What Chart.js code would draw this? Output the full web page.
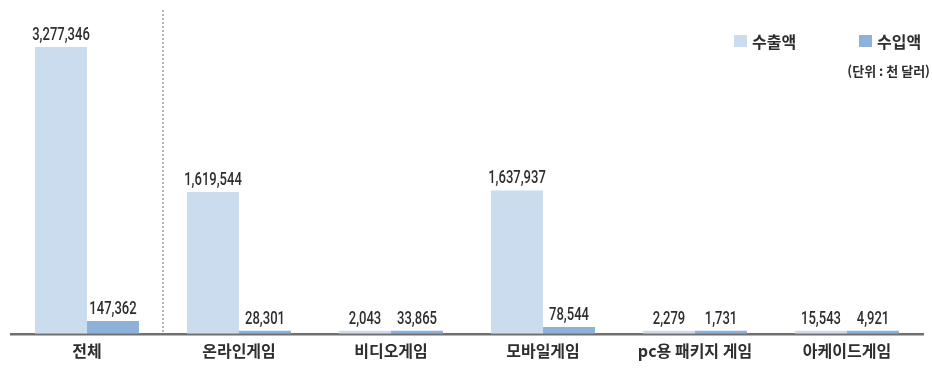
<!DOCTYPE html>
<html lang="ko">
<head>
<meta charset="utf-8">
<title>게임 수출입액</title>
<script src="https://cdn.jsdelivr.net/npm/chart.js@4.4.1/dist/chart.umd.min.js"></script>
<style>
    html, body { margin: 0; padding: 0; background: #fff; }
    #wrap { position: relative; width: 932px; height: 371px; }
</style>
</head>
<body>
<div id="wrap"><canvas id="gameTradeChart" width="932" height="371"></canvas></div>
<script>
// 게임 분야별 수출액 / 수입액 (단위: 천 달러)
const categories = ['전체', '온라인게임', '비디오게임', '모바일게임', 'pc용 패키지 게임', '아케이드게임'];
const exportValues = [3277346, 1619544, 2043, 1637937, 2279, 15543];
const importValues = [147362, 28301, 33865, 78544, 1731, 4921];
const seriesNames = ['수출액', '수입액'];
const unitText = '(단위 : 천 달러)';

const EXPORT_COLOR = '#cbdcee';
const IMPORT_COLOR = '#8db1d8';
const TEXT_COLOR = '#2e2e2e';

// numbers above each bar, squeezed into a narrow face
const valueLabels = {
    id: 'valueLabels',
    afterDatasetsDraw(chart) {
        const ctx = chart.ctx;
        ctx.save();
        ctx.font = '500 19px Roboto, "Noto Sans", sans-serif';
        ctx.fillStyle = TEXT_COLOR;
        ctx.textAlign = 'center';
        ctx.textBaseline = 'alphabetic';
        // aim for ~7.4px per digit
        const squeeze = 7.4 / ctx.measureText('0').width;
        chart.data.datasets.forEach((ds, di) => {
            const meta = chart.getDatasetMeta(di);
            meta.data.forEach((bar, i) => {
                const text = ds.data[i].toLocaleString('en-US');
                ctx.save();
                ctx.translate(bar.x, bar.y - 7);
                ctx.scale(squeeze, 1);
                ctx.fillText(text, 0, 0);
                ctx.restore();
            });
        });
        ctx.restore();
    }
};

// dotted divider between the total and the individual categories
const totalDivider = {
    id: 'totalDivider',
    beforeDatasetsDraw(chart) {
        const { ctx, chartArea } = chart;
        const xScale = chart.scales.x;
        const x = (xScale.getPixelForValue(0) + xScale.getPixelForValue(1)) / 2;
        ctx.save();
        ctx.strokeStyle = '#9a9a9a';
        ctx.lineWidth = 1.5;
        ctx.setLineDash([2, 2]);
        ctx.beginPath();
        ctx.moveTo(x, chartArea.top);
        ctx.lineTo(x, chartArea.bottom);
        ctx.stroke();
        ctx.restore();
    }
};

// legend and unit note in the top right corner
const cornerLegend = {
    id: 'cornerLegend',
    afterDraw(chart) {
        const ctx = chart.ctx;
        const spots = [734, 859];
        ctx.save();
        ctx.font = '600 16px "Noto Sans CJK KR", sans-serif';
        ctx.textBaseline = 'middle';
        ctx.textAlign = 'left';
        chart.data.datasets.forEach((ds, i) => {
            ctx.fillStyle = ds.backgroundColor;
            ctx.fillRect(spots[i], 35, 13, 12);
            ctx.fillStyle = TEXT_COLOR;
            ctx.fillText(ds.label, spots[i] + 18, 42);
        });
        ctx.font = '600 13px "Noto Sans CJK KR", sans-serif';
        ctx.textAlign = 'right';
        ctx.fillText(unitText, 930, 71);
        ctx.restore();
    }
};

new Chart(document.getElementById('gameTradeChart').getContext('2d'), {
    type: 'bar',
    data: {
        labels: categories,
        datasets: [{
            label: seriesNames[0],
            data: exportValues,
            backgroundColor: EXPORT_COLOR,
            categoryPercentage: 0.684,
            barPercentage: 1.0,
            minBarLength: 3
        }, {
            label: seriesNames[1],
            data: importValues,
            backgroundColor: IMPORT_COLOR,
            categoryPercentage: 0.684,
            barPercentage: 1.0,
            minBarLength: 3
        }]
    },
    options: {
        responsive: false,
        animation: false,
        layout: {
            padding: { left: 11, right: 9, top: 10, bottom: 2 }
        },
        plugins: {
            legend: { display: false },
            tooltip: { enabled: false }
        },
        scales: {
            x: {
                grid: { display: false, drawTicks: false },
                border: { color: '#707070', width: 2.5 },
                ticks: {
                    color: TEXT_COLOR,
                    padding: 8,
                    font: { family: '"Noto Sans CJK KR", sans-serif', size: 16, weight: '600' }
                }
            },
            y: {
                display: false,
                min: 0,
                max: 3700000
            }
        }
    },
    plugins: [totalDivider, valueLabels, cornerLegend]
});
</script>
</body>
</html>
